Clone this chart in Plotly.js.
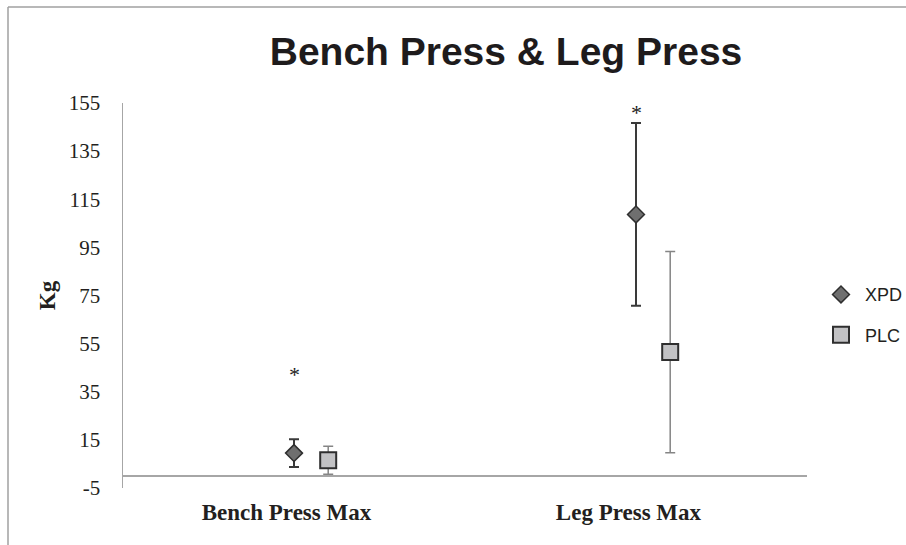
<!DOCTYPE html>
<html>
<head>
<meta charset="utf-8">
<script src="https://cdn.plot.ly/plotly-3.0.1.min.js"></script>
<style>
  html, body { margin: 0; padding: 0; background: #fff; overflow: hidden; width: 906px; height: 545px; }
  #chart { width: 1000px; height: 545px; }
</style>
</head>
<body>
<div id="chart"></div>
<script>
// ---- data ----
const categories = ['Bench Press Max', 'Leg Press Max'];
const xpdMean = [9.5, 108.7];
const xpdSD   = [5.8, 38.0];
const plcMean = [6.5, 51.5];
const plcSD   = [5.8, 41.8];
const sigY    = [42, 151];          // asterisk heights (over XPD)
const yTicks  = [-5, 15, 35, 55, 75, 95, 115, 135, 155];
const yTickText = ['-5', '15', '35', '55', '75', '95', '115', '135', '155'];

const catIdx = categories.map((c, i) => i);
const plcOffset = 0.1;
const labelShift = -0.022;

const xpd = {
  type: 'scatter', mode: 'markers', name: 'XPD', legendgroup: 'a',
  x: catIdx, y: xpdMean,
  error_y: { type: 'data', array: xpdSD, visible: true, color: '#3a3a3a', thickness: 2, width: 5 },
  marker: { symbol: 'diamond', size: 13, color: '#6f6f6f', line: { color: '#2f2f2f', width: 1.5 } },
  cliponaxis: false, hoverinfo: 'skip'
};
const plc = {
  type: 'scatter', mode: 'markers', name: 'PLC', legendgroup: 'b',
  x: catIdx.map(i => i + plcOffset), y: plcMean,
  error_y: { type: 'data', array: plcSD, visible: true, color: '#858585', thickness: 1.5, width: 5 },
  marker: { symbol: 'square', size: 16, color: '#c2c2c4', line: { color: '#2f2f2f', width: 2 } },
  cliponaxis: false, hoverinfo: 'skip'
};

const annotations = catIdx.map((i, k) => ({
  x: i, y: sigY[k], xref: 'x', yref: 'y', text: '*', showarrow: false,
  font: { family: 'Liberation Serif, Times New Roman, serif', size: 22, color: '#222' }
}));

const W = 1000, H = 545;
const L = 123, R = 807, T = 103, B = 488;
const pw = R - L, ph = B - T;

const layout = {
  width: W, height: H,
  margin: { l: L, r: W - R, t: T, b: H - B },
  paper_bgcolor: '#fff', plot_bgcolor: '#fff',
  title: {
    text: 'Bench Press &amp; Leg Press',
    font: { family: 'Liberation Sans, Arial, sans-serif', size: 39, color: '#1e1b1c', weight: 'bold' },
    x: 506 / W, xanchor: 'center', xref: 'container',
    y: 1 - 51 / H, yanchor: 'middle', yref: 'container'
  },
  xaxis: {
    range: [-0.5, 1.5], tickvals: catIdx.map(i => i + labelShift), ticktext: categories,
    showgrid: false, zeroline: false, showline: false, ticks: '',
    ticklabelstandoff: 8,
    tickfont: { family: 'Liberation Serif, Times New Roman, serif', size: 23, color: '#231f20', weight: 'bold' },
    fixedrange: true
  },
  yaxis: {
    range: [-5, 155], tickvals: yTicks, ticktext: yTickText, showgrid: false,
    zeroline: true, zerolinecolor: '#a6a6a6', zerolinewidth: 1.5,
    showline: true, linecolor: '#a6a6a6', linewidth: 1.5, ticks: '',
    ticklabelstandoff: 17,
    tickfont: { family: 'Liberation Serif, Times New Roman, serif', size: 21, color: '#231f20' },
    title: { text: 'Kg', standoff: 6,
      font: { family: 'Liberation Serif, Times New Roman, serif', size: 23, color: '#231f20', weight: 'bold' } },
    fixedrange: true
  },
  showlegend: true,
  legend: {
    x: (817 - L) / pw, xanchor: 'left', y: 0.55, yanchor: 'top',
    traceorder: 'grouped', tracegroupgap: 14, itemwidth: 38,
    font: { family: 'Liberation Sans, Arial, sans-serif', size: 18, color: '#231f20' },
    bgcolor: 'rgba(0,0,0,0)'
  },
  annotations: annotations,
  shapes: [
    { type: 'line', xref: 'paper', yref: 'paper',
      x0: (8 - L) / pw, x1: (W - L) / pw, y0: (B - 7) / ph, y1: (B - 7) / ph,
      line: { color: '#a0a0a0', width: 1.5 } },
    { type: 'line', xref: 'paper', yref: 'paper',
      x0: (8 - L) / pw, x1: (8 - L) / pw, y0: (B - 7) / ph, y1: (B - H) / ph,
      line: { color: '#a0a0a0', width: 1.5 } }
  ]
};

Plotly.newPlot('chart', [xpd, plc], layout, { displayModeBar: false, staticPlot: true });
</script>
</body>
</html>
